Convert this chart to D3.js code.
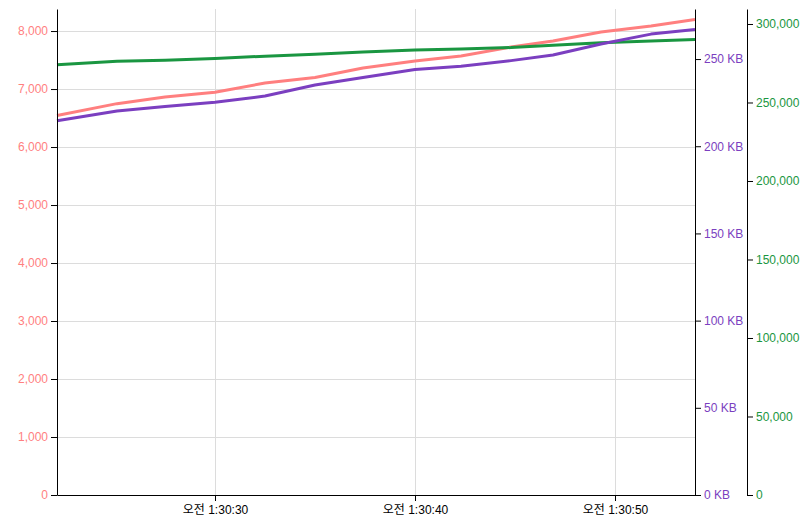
<!DOCTYPE html>
<html>
<head>
<meta charset="utf-8">
<script src="https://cdn.jsdelivr.net/npm/d3@7"></script>
<style>
  html, body { margin: 0; padding: 0; background: #fff; }
  svg text { font-family: "Liberation Sans", "Noto Sans CJK KR", sans-serif; font-size: 12px; }
</style>
</head>
<body>
<svg id="chart" width="806" height="531"></svg>
<script>
// ---- data ----
const seconds = [22.1, 25.1, 27.5, 30.0, 32.5, 35.0, 37.4, 40.0, 42.3, 44.8, 46.9, 49.3, 51.8, 54.0];
const seriesA = [6545, 6748, 6862, 6945, 7103, 7198, 7362, 7483, 7569, 7724, 7828, 7983, 8086, 8200];
const seriesKB = [214.6, 220.2, 222.8, 225.2, 228.8, 235.1, 239.4, 244.0, 245.9, 249.1, 252.3, 258.6, 264.3, 267.0];
const seriesC = [274000, 276200, 276900, 278000, 279500, 280800, 282100, 283400, 284000, 285000, 286500, 288100, 289100, 290200];
const leftTicks = [0, 1000, 2000, 3000, 4000, 5000, 6000, 7000, 8000];
const kbTicks = [0, 50, 100, 150, 200, 250];
const rightTicks = [0, 50000, 100000, 150000, 200000, 250000, 300000];
const leftMax = 8380, kbMax = 278.7, rightMax = 309550;

const colA = "#ff7f7f", colKB = "#7b3fc0", colC = "#1a9641";

const base = new Date(2024, 0, 1, 1, 30, 0);
const times = seconds.map(s => new Date(base.getTime() + s * 1000));

const svg = d3.select("#chart");
const L = 57, R = 695, T = 9, B = 495;

const x = d3.scaleTime().domain(d3.extent(times)).range([L, R]);
const yA = d3.scaleLinear().domain([0, leftMax]).range([B, T]);
const yKB = d3.scaleLinear().domain([0, kbMax]).range([B, T]);
const yC = d3.scaleLinear().domain([0, rightMax]).range([B, T]);

const locale = d3.timeFormatLocale({
  dateTime: "%Y/%m/%d %a %X", date: "%Y/%m/%d", time: "%H:%M:%S",
  periods: ["오전", "오후"],
  days: ["일요일","월요일","화요일","수요일","목요일","금요일","토요일"],
  shortDays: ["일","월","화","수","목","금","토"],
  months: ["1월","2월","3월","4월","5월","6월","7월","8월","9월","10월","11월","12월"],
  shortMonths: ["1월","2월","3월","4월","5월","6월","7월","8월","9월","10월","11월","12월"]
});
const fmtTime = locale.format("%p %-I:%M:%S");
const xTicks = x.ticks(d3.timeSecond.every(10));

// grid
const grid = svg.append("g");
grid.selectAll("line.h").data(leftTicks.filter(d => d > 0)).join("line")
  .attr("x1", L).attr("x2", R).attr("y1", d => Math.floor(yA(d)) + 0.5).attr("y2", d => Math.floor(yA(d)) + 0.5)
  .attr("stroke", "#dcdcdc").attr("stroke-width", 1);
grid.selectAll("line.v").data(xTicks).join("line")
  .attr("x1", d => Math.floor(x(d)) + 0.5).attr("x2", d => Math.floor(x(d)) + 0.5)
  .attr("y1", T).attr("y2", B)
  .attr("stroke", "#dcdcdc").attr("stroke-width", 1);

// lines
function addLine(vals, yScale, col) {
  const line = d3.line().x((d, i) => x(times[i])).y(d => yScale(d));
  svg.append("path").datum(vals).attr("d", line)
    .attr("fill", "none").attr("stroke", col).attr("stroke-width", 3)
    .attr("stroke-linejoin", "round");
}
addLine(seriesA, yA, colA);
addLine(seriesC, yC, colC);
addLine(seriesKB, yKB, colKB);

// axes
function styleAxis(g, col) {
  g.select(".domain").attr("stroke", "#000");
  g.selectAll(".tick line").attr("stroke", "#000");
  g.selectAll(".tick text").attr("fill", col).style("font-size", "12px");
}
const fmtNum = d3.format(",");
const gL = svg.append("g").attr("transform", `translate(${L},0)`)
  .call(d3.axisLeft(yA).tickValues(leftTicks).tickFormat(fmtNum).tickSizeOuter(0).tickPadding(3));
styleAxis(gL, colA);

const gK = svg.append("g").attr("transform", `translate(${R},0)`)
  .call(d3.axisRight(yKB).tickValues(kbTicks).tickFormat(d => d + " KB").tickSizeOuter(0).tickPadding(3));
styleAxis(gK, colKB);

const gC = svg.append("g").attr("transform", `translate(747,0)`)
  .call(d3.axisRight(yC).tickValues(rightTicks).tickFormat(fmtNum).tickSizeOuter(0).tickPadding(3));
styleAxis(gC, colC);

const gX = svg.append("g").attr("transform", `translate(0,${B})`)
  .call(d3.axisBottom(x).tickValues(xTicks).tickFormat(fmtTime).tickSizeOuter(0).tickPadding(4));
styleAxis(gX, "#000");
</script>
</body>
</html>
